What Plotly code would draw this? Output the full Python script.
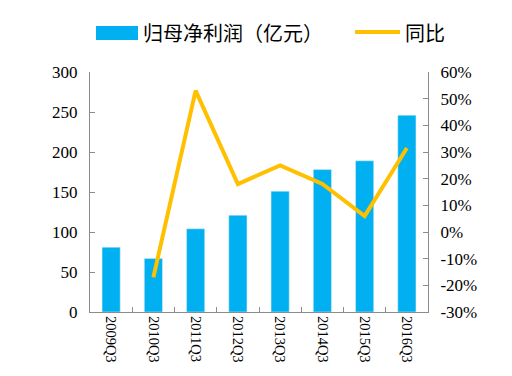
import plotly.graph_objects as go

categories = ["2009Q3", "2010Q3", "2011Q3", "2012Q3", "2013Q3", "2014Q3", "2015Q3", "2016Q3"]
profit = [81, 67, 104, 121, 151, 178, 189, 246]
yoy = [None, -17, 53, 18, 25, 18, 6, 31.5]
left_ticks = [0, 50, 100, 150, 200, 250, 300]
right_ticks = [-30, -20, -10, 0, 10, 20, 30, 40, 50, 60]

BLUE = "#00B0F0"
ORANGE = "#FFC000"
AX = "#8C8C8C"
FONT = "'Liberation Serif', 'DejaVu Serif', serif"
CJK = "'Noto Sans CJK SC', sans-serif"

# page has 8px body margin; plot area target in window: x 90..428, y 72..312
L, T = 82, 64
R, B = 512 - 420, 376 - 304
PW, PH = 338, 240

def px(x):  # window x -> paper
    return (x - 8 - L) / PW

def py(y):  # window y -> paper
    return (T + PH - (y - 8)) / PH

fig = go.Figure()
fig.add_trace(go.Bar(x=categories, y=profit, marker_color=BLUE, name="归母净利润（亿元）", yaxis="y"))
fig.add_trace(go.Scatter(x=categories, y=yoy, mode="lines", line=dict(color=ORANGE, width=4),
                         name="同比", yaxis="y2"))

fig.update_layout(
    width=512, height=376,
    margin=dict(l=L, r=R, t=T, b=B),
    plot_bgcolor="white", paper_bgcolor="white",
    showlegend=False,
    bargap=0.57,
    font=dict(family=FONT, size=17, color="#000"),
    xaxis=dict(showline=True, linecolor=AX, linewidth=1, ticks="inside", tickcolor=AX, ticklen=5,
               tickson="boundaries", tickangle=90, tickfont=dict(size=14.5, family=FONT),
               showgrid=False, mirror=False),
    yaxis=dict(range=[0, 300], tickvals=left_ticks, showline=True, linecolor=AX, linewidth=1,
               ticks="inside", tickcolor=AX, ticklen=5, showgrid=False, zeroline=False,
               tickfont=dict(size=17, family=FONT), ticklabelstandoff=8),
    yaxis2=dict(range=[-30, 60], tickvals=right_ticks, ticktext=[f"{v}%" for v in right_ticks],
                overlaying="y", side="right", showline=True, linecolor=AX, linewidth=1,
                ticks="inside", tickcolor=AX, ticklen=5, showgrid=False, zeroline=False,
                tickfont=dict(size=17, family=FONT), ticklabelstandoff=8),
)

# Legend drawn manually to match the wide swatches
fig.add_shape(type="rect", xref="paper", yref="paper",
              x0=px(96), x1=px(138), y0=py(40), y1=py(26),
              fillcolor=BLUE, line=dict(width=0))
fig.add_annotation(xref="paper", yref="paper", x=px(141), y=py(33),
                   xanchor="left", yanchor="middle", showarrow=False,
                   text="归母净利润（亿元）", font=dict(family=CJK, size=20, color="#000"))
fig.add_shape(type="line", xref="paper", yref="paper",
              x0=px(355), x1=px(400), y0=py(32), y1=py(32),
              line=dict(color=ORANGE, width=4))
fig.add_annotation(xref="paper", yref="paper", x=px(403), y=py(33),
                   xanchor="left", yanchor="middle", showarrow=False,
                   text="同比", font=dict(family=CJK, size=20, color="#000"))

fig.write_html("out.html")
